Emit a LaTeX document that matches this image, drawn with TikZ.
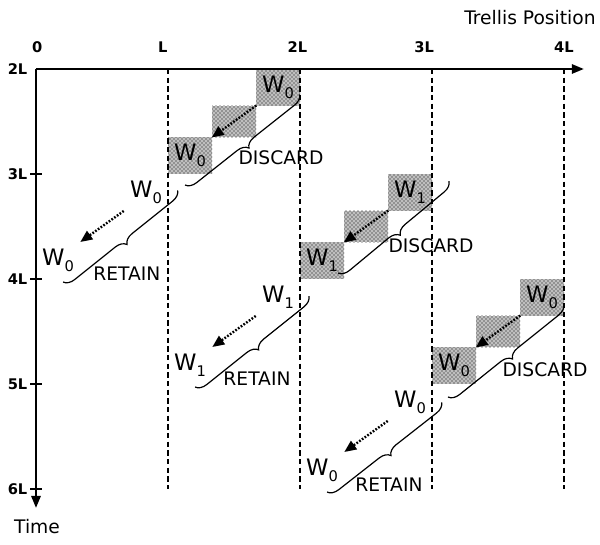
\documentclass[tikz,border=0pt]{standalone}
\usepackage{fontspec}
\setmainfont{DejaVu Sans}
\usetikzlibrary{arrows.meta,decorations.pathreplacing,patterns}
\newcommand{\wsub}[1]{W\raisebox{-0.5ex}{\fontsize{11pt}{11pt}\selectfont #1}}
\tikzset{
  axis/.style={line width=1.5pt,-{Triangle[length=9pt,width=7pt]}},
  tickmark/.style={line width=1.1pt},
  col/.style={line width=1.6pt,dash pattern=on 4pt off 2.5pt},
  num/.style={font=\fontsize{11pt}{13pt}\selectfont\bfseries},
  cell/.style={minimum width=33pt,minimum height=27.5pt,inner sep=0pt,
    font=\fontsize{17pt}{20pt}\selectfont},
  dotfill/.style={preaction={fill=black!25},pattern=crosshatch dots},
  slide/.style={line width=1.8pt,dash pattern=on 1.3pt off 1.2pt,
    -{Triangle[length=9pt,width=7.5pt]}},
  bracket/.style={decorate,decoration={brace,mirror,amplitude=8pt},line width=0.9pt},
  tag/.style={font=\fontsize{14pt}{16pt}\selectfont}
}
\begin{document}
\begin{tikzpicture}[x=99pt,y=-78.75pt]
      \useasboundingbox (-0.2727,-0.657) rectangle (4.2727,4.533);
      \node[cell,dotfill] (dt1) at (1.8333,0.175) {\wsub{0}};
      \node[cell,dotfill,minimum height=23.6pt] (dm1) at (1.5,0.5) {};
      \node[cell,dotfill] (db1) at (1.1667,0.825) {\wsub{0}};
      \node[cell,dotfill] (dt2) at (2.8333,1.175) {\wsub{1}};
      \node[cell,dotfill,minimum height=23.6pt] (dm2) at (2.5,1.5) {};
      \node[cell,dotfill] (db2) at (2.1667,1.825) {\wsub{1}};
      \node[cell,dotfill] (dt3) at (3.8333,2.175) {\wsub{0}};
      \node[cell,dotfill,minimum height=23.6pt] (dm3) at (3.5,2.5) {};
      \node[cell,dotfill] (db3) at (3.1667,2.825) {\wsub{0}};
      \node[cell] (rt1) at (0.8333,1.175) {\wsub{0}};
      \node[cell] (rb1) at (0.1667,1.825) {\wsub{0}};
      \node[cell] (rt2) at (1.8333,2.175) {\wsub{1}};
      \node[cell] (rb2) at (1.1667,2.825) {\wsub{1}};
      \node[cell] (rt3) at (2.8333,3.175) {\wsub{0}};
      \node[cell] (rb3) at (2.1667,3.825) {\wsub{0}};
      \draw[col] (1,0) -- (1,4);
      \draw[col] (2,0) -- (2,4);
      \draw[col] (3,0) -- (3,4);
      \draw[col] (4,0) -- (4,4);
      \coordinate (o) at (0,0);
      \draw[axis] (o) -- (4.15,0);
      \draw[axis] (o) -- (0,4.18);
      \draw[tickmark] (-0.045,1) -- (0.045,1);
      \draw[tickmark] (-0.045,2) -- (0.045,2);
      \draw[tickmark] (-0.045,3) -- (0.045,3);
      \draw[tickmark] (-0.045,4) -- (0.045,4);
      \node[num] (x0) at (0.01,-0.21) {0};
      \node[num] (x1) at (0.96,-0.21) {L};
      \node[num] (x2) at (1.98,-0.21) {2L};
      \node[num] (x3) at (2.94,-0.21) {3L};
      \node[num] (x4) at (4,-0.21) {4L};
      \node[num,anchor=east] (t2) at (-0.03,0) {2L};
      \node[num,anchor=east] (t3) at (-0.03,1) {3L};
      \node[num,anchor=east] (t4) at (-0.03,2) {4L};
      \node[num,anchor=east] (t5) at (-0.03,3) {5L};
      \node[num,anchor=east] (t6) at (-0.03,4) {6L};
      \node[tag] (xlab) at (3.742,-0.486) {Trellis Position};
      \node[tag] (ylab) at (0.008,4.362) {Time};
      \draw[slide] (dm1.north east) -- (dm1.south west);
      \draw[slide] (dm2.north east) -- (dm2.south west);
      \draw[slide] (dm3.north east) -- (dm3.south west);
      \draw[slide] (rt1.south west) -- (rb1.north east);
      \draw[slide] (rt2.south west) -- (rb2.north east);
      \draw[slide] (rt3.south west) -- (rb3.north east);
      \draw[bracket] (1.129,1.105) -- (2.0,0.238);
      \draw[bracket] (2.288,1.943) -- (3.129,1.067);
      \draw[bracket] (3.121,3.124) -- (4.0,2.238);
      \draw[bracket] (0.205,2.029) -- (1.076,1.152);
      \draw[bracket] (1.205,3.029) -- (2.068,2.162);
      \draw[bracket] (2.205,4.029) -- (3.076,3.171);
      \node[tag] (dl1) at (1.856,0.848) {DISCARD};
      \node[tag] (dl2) at (2.992,1.686) {DISCARD};
      \node[tag] (dl3) at (3.856,2.867) {DISCARD};
      \node[tag] (rl1) at (0.689,1.952) {RETAIN};
      \node[tag] (rl2) at (1.674,2.952) {RETAIN};
      \node[tag] (rl3) at (2.674,3.962) {RETAIN};
    \end{tikzpicture}
\end{document}
